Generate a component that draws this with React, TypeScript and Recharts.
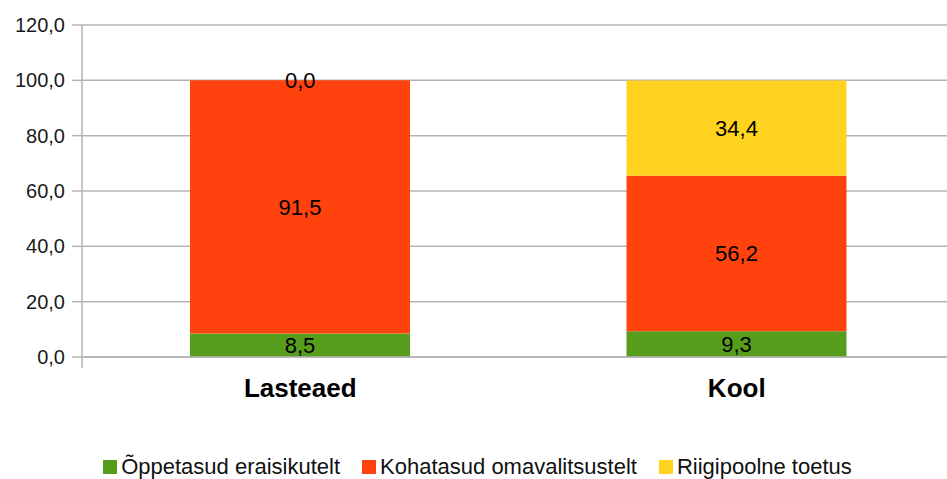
import {
  Bar,
  BarChart,
  CartesianGrid,
  LabelList,
  Legend,
  ReferenceDot,
  ReferenceLine,
  XAxis,
  YAxis,
} from "recharts";

const categories = ["Lasteaed", "Kool"];
const oppetasud = [8.5, 9.3];
const kohatasud = [91.5, 56.2];
const riigipoolne = [0.0, 34.4];
const yTicks = [0, 20, 40, 60, 80, 100, 120];

const seriesNames = {
  oppetasud: "Õppetasud eraisikutelt",
  kohatasud: "Kohatasud omavalitsustelt",
  riigipoolne: "Riigipoolne toetus",
};

const colors = {
  oppetasud: "#579d1c",
  kohatasud: "#ff420e",
  riigipoolne: "#ffd320",
};

const FONT = '"Liberation Sans", Arial, sans-serif';
const GRID = "#b3b3b3";

const chartData = categories.map((name, i) => ({
  name,
  oppetasud: oppetasud[i],
  kohatasud: kohatasud[i],
  riigipoolne: riigipoolne[i],
}));

const fmt = (v: any) => Number(v).toFixed(1).replace(".", ",");

// legend drawn by hand so the square/text spacing matches the original
function LegendBox() {
  const keys = ["oppetasud", "kohatasud", "riigipoolne"] as const;
  return (
    <div
      style={{
        display: "flex",
        justifyContent: "center",
        alignItems: "center",
        gap: 22,
        fontFamily: FONT,
        fontSize: 22,
        color: "#111",
        height: 24,
        lineHeight: "24px",
      }}
    >
      {keys.map((k) => (
        <div key={k} style={{ display: "flex", alignItems: "center" }}>
          <span
            style={{
              display: "inline-block",
              width: 14,
              height: 14,
              background: colors[k],
              marginRight: 4,
            }}
          />
          <span>{seriesNames[k]}</span>
        </div>
      ))}
    </div>
  );
}

const labelStyle = { fontFamily: FONT, fontSize: 22, fill: "#000" };

export default function App() {
  return (
    <div
      style={{
        position: "fixed",
        left: 0,
        top: 0,
        width: 947,
        height: 479,
        overflow: "hidden",
        background: "#fff",
      }}
    >
      <BarChart
        width={960}
        height={479}
        data={chartData}
        margin={{ top: 25, right: 5, left: 0, bottom: 0 }}
      >
        <CartesianGrid vertical={false} stroke={GRID} strokeWidth={1.5} />
        <XAxis
          dataKey="name"
          tickLine={false}
          axisLine={{ stroke: GRID, strokeWidth: 1.5 }}
          height={98}
          tickMargin={16}
          tick={{ fontFamily: FONT, fontSize: 26, fontWeight: "bold", fill: "#000" }}
        />
        <XAxis xAxisId="edge" type="number" domain={[0, 2]} hide />
        <YAxis
          width={82}
          domain={[0, 120]}
          ticks={yTicks}
          interval={0}
          tickFormatter={fmt}
          tickSize={10}
          tickMargin={7}
          axisLine={{ stroke: GRID, strokeWidth: 1.5 }}
          tickLine={{ stroke: GRID, strokeWidth: 1.5 }}
          tick={{ fontFamily: FONT, fontSize: 20, fill: "#1a1a1a" }}
        />
        {[0, 1, 2].map((x) => (
          <ReferenceLine
            key={x}
            xAxisId="edge"
            segment={[
              { x, y: 0 },
              { x, y: -4 },
            ]}
            ifOverflow="visible"
            stroke={GRID}
            strokeWidth={1.5}
          />
        ))}
        <Legend verticalAlign="bottom" height={24} content={() => <LegendBox />} />
        {(["oppetasud", "kohatasud", "riigipoolne"] as const).map((k) => (
          <Bar
            key={k}
            dataKey={k}
            name={seriesNames[k]}
            stackId="a"
            fill={colors[k]}
            barSize={220}
            isAnimationActive={false}
          >
            <LabelList
              dataKey={k}
              position="center"
              formatter={fmt}
              style={labelStyle}
            />
          </Bar>
        ))}
        {/* zero-height segments get no label from LabelList, so place it at the stack top */}
        {chartData
          .filter((d) => d.riigipoolne === 0)
          .map((d) => (
            <ReferenceDot
              key={d.name}
              x={d.name}
              y={d.oppetasud + d.kohatasud + d.riigipoolne}
              r={0}
              stroke="none"
              fill="none"
              ifOverflow="visible"
              label={{
                value: fmt(d.riigipoolne),
                position: "center",
                ...labelStyle,
              }}
            />
          ))}
      </BarChart>
    </div>
  );
}
